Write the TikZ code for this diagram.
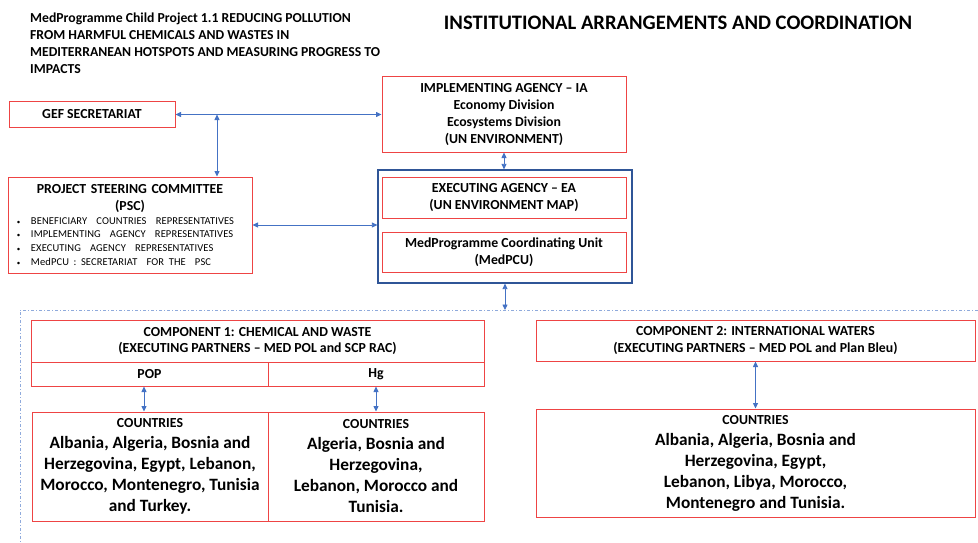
\documentclass[tikz,border=0pt]{standalone}
\usepackage{fontspec}
\setmainfont{Carlito}
\usepackage{tikz}
\usetikzlibrary{arrows.meta}
\definecolor{boxred}{RGB}{238,68,68}
\definecolor{linkblue}{RGB}{68,114,196}
\definecolor{groupblue}{RGB}{47,85,151}
\definecolor{framegray}{RGB}{143,170,220}
\tikzstyle{arrow} = [linkblue, line width=0.8pt, {Triangle[length=5.5pt,width=5pt]}-{Triangle[length=5.5pt,width=5pt]}]
\tikzstyle{box} = [rectangle, draw=boxred, line width=1pt, text centered, align=center, inner sep=1pt, font=\bfseries\fontsize{13.8}{16.7}\selectfont]
\tikzstyle{ctybox} = [box, font=\bfseries\fontsize{17.3}{21}\selectfont]
\newcommand{\ctyhead}{\fontsize{13.8}{19}\selectfont COUNTRIES}
\newcommand{\pscitem}{\hspace*{5pt}\makebox[14pt][l]{\fontsize{7}{7}\selectfont\textbullet}}

\begin{document}
\begin{tikzpicture}[x=1pt, y=-1pt]
                \useasboundingbox (0,0) rectangle (978,543);
                \node (title) [anchor=north west, align=left, inner sep=0pt, font=\bfseries\fontsize{13.7}{16.8}\selectfont] at (30,13) {MedProgramme Child Project 1.1 REDUCING POLLUTION\\FROM HARMFUL CHEMICALS AND WASTES IN\\MEDITERRANEAN HOTSPOTS AND MEASURING PROGRESS TO\\IMPACTS};
                \node (heading) [font=\bfseries\fontsize{20.6}{24}\selectfont] at (678,23) {INSTITUTIONAL ARRANGEMENTS AND COORDINATION};
                \node (gef) [box, minimum width=166, minimum height=25] at (92,114.5) {GEF SECRETARIAT};
                \node (ia) [box, minimum width=244, minimum height=75] at (504,114.5) {IMPLEMENTING AGENCY -- IA\\Economy Division\\Ecosystems Division\\(UN ENVIRONMENT)};
                \node (psc) [box, minimum height=96, text width=236, inner sep=4pt, align=left] at (130,225) {\centering PROJECT STEERING COMMITTEE\\(PSC)\par
                    \raggedright\mdseries\fontsize{10.5}{13.8}\selectfont\addfontfeature{LetterSpace=1}
                    \pscitem BENEFICIARY\ \ COUNTRIES\ \ REPRESENTATIVES\par
                    \pscitem IMPLEMENTING\ \ AGENCY\ \ REPRESENTATIVES\par
                    \pscitem EXECUTING\ \ AGENCY\ \ REPRESENTATIVES\par
                    \pscitem MedPCU : SECRETARIAT\ \ FOR THE\ \ PSC\par};
                \node (blue) [rectangle, draw=groupblue, line width=1.2pt, minimum width=254, minimum height=113] at (505,226.5) {};
                \node (ea) [box, minimum width=244, minimum height=41] at (504,197.5) {EXECUTING AGENCY -- EA\\(UN ENVIRONMENT MAP)};
                \node (pcu) [box, minimum width=244, minimum height=40] at (504,252) {MedProgramme Coordinating Unit\\(MedPCU)};
                \coordinate (gefjoin) at (217,114.5);
                \coordinate (frametop) at (505,310);
                % dash dot frame round the components
                \draw [framegray, line width=0.9pt, dash pattern=on 3pt off 2pt on 1pt off 2pt] (978,310) -- (20,310) -- (20,543);
                \node (comp1) [box, minimum width=453, minimum height=42] at (257.5,341) {COMPONENT 1: CHEMICAL\ AND WASTE\\(EXECUTING PARTNERS -- MED POL and SCP RAC)};
                \node (pop) [box, minimum width=237, minimum height=24] at (149.5,374) {POP};
                \node (hg) [box, minimum width=216, minimum height=24] at (376,374) {Hg};
                \node (cty1) [ctybox, minimum width=236, minimum height=109] at (150,466.5) {\ctyhead\\Albania, Algeria, Bosnia and\\Herzegovina, Egypt, Lebanon,\\Morocco, Montenegro, Tunisia\\and Turkey.};
                \node (cty2) [ctybox, minimum width=216, minimum height=109] at (376,466.5) {\ctyhead\\Algeria, Bosnia and\\Herzegovina,\\Lebanon, Morocco and\\Tunisia.};
                \node (comp2) [box, minimum width=439, minimum height=41] at (755.5,340.5) {COMPONENT 2: INTERNATIONAL WATERS\\(EXECUTING PARTNERS -- MED POL and Plan Bleu)};
                \node (cty3) [ctybox, minimum width=439, minimum height=108] at (755.5,463) {\ctyhead\\Albania, Algeria, Bosnia and\\Herzegovina, Egypt,\\Lebanon, Libya, Morocco,\\Montenegro and Tunisia.};

                \draw [arrow] (gef.east) -- (gef.east -| ia.west);
                \draw [arrow] (gefjoin) -- (gefjoin |- psc.north);
                \draw [arrow] (psc.east) -- (psc.east -| blue.west);
                \draw [arrow] (ia.south) -- (ia.south |- blue.north);
                \draw [arrow] (blue.south) -- (frametop);
                \draw [arrow] ([xshift=-5.5pt]pop.south) -- ([xshift=-5.5pt]pop.south |- cty1.north);
                \draw [arrow] (hg.south) -- (hg.south |- cty2.north);
                \draw [arrow] (comp2.south) -- (cty3.north);
            \end{tikzpicture}
\end{document}
